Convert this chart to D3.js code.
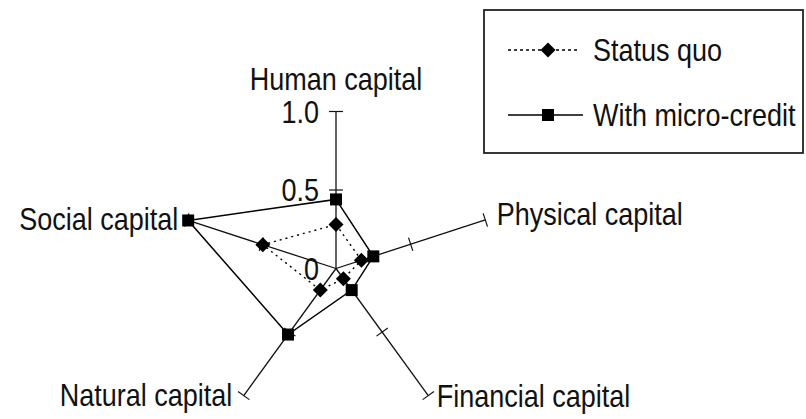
<!DOCTYPE html>
<html>
<head>
<meta charset="utf-8">
<script src="https://cdn.jsdelivr.net/npm/d3@7"></script>
<style>
  html, body { margin: 0; padding: 0; background: #fff; }
  svg { display: block; }
  text { font-family: "Liberation Sans", Arial, sans-serif; fill: #111; }
</style>
</head>
<body>
<svg id="chart" width="806" height="419"></svg>
<script>
// ---- data ----
const axes = ["Human capital", "Physical capital", "Financial capital", "Natural capital", "Social capital"];
const statusQuo = [0.28, 0.17, 0.08, 0.17, 0.49];
const withMicroCredit = [0.44, 0.25, 0.17, 0.52, 0.99];
const tickValues = [0, 0.5, 1.0];
const tickLabels = ["0", "0.5", "1.0"];
const seriesNames = ["Status quo", "With micro-credit"];

// ---- layout ----
const svg = d3.select("#chart");
const cx = 336, cy = 268.5, R = 157;
const FS = 27, VS = 1.13;
const r = d3.scaleLinear().domain([0, 1]).range([0, R]);
const angle = i => (-90 + 72 * i) * Math.PI / 180;
const pt = (i, v) => [cx + r(v) * Math.cos(angle(i)), cy + r(v) * Math.sin(angle(i))];

const g = svg.append("g");

// axes
axes.forEach((name, i) => {
  const [x1, y1] = pt(i, 1);
  g.append("line").attr("x1", cx).attr("y1", cy).attr("x2", x1).attr("y2", y1)
    .attr("stroke", "#111").attr("stroke-width", 1.3);
  // perpendicular ticks at 0.5 and 1.0
  [0.5, 1.0].forEach(v => {
    const [tx, ty] = pt(i, v);
    const a = angle(i) + Math.PI / 2;
    const h = 7;
    g.append("line")
      .attr("x1", tx - h * Math.cos(a)).attr("y1", ty - h * Math.sin(a))
      .attr("x2", tx + h * Math.cos(a)).attr("y2", ty + h * Math.sin(a))
      .attr("stroke", "#111").attr("stroke-width", 1.2);
  });
});

// tick labels on first axis
tickValues.forEach((v, k) => {
  const [, ty] = pt(0, v);
  const yb = v === 0 ? cy + 11.5 : ty + 11;
  g.append("text")
    .attr("transform", `translate(319,${yb}) scale(1,${VS})`)
    .attr("text-anchor", "end").attr("font-size", FS)
    .text(tickLabels[k]);
});

// axis labels
const labelPos = [
  { dx: 0, dy: -21.5, anchor: "middle" },
  { dx: 11.5, dy: 5, anchor: "start" },
  { dx: 8.5, dy: 11.5, anchor: "start" },
  { dx: -11.5, dy: 10.5, anchor: "end" },
  { dx: -8.5, dy: 10, anchor: "end" }
];
axes.forEach((name, i) => {
  const [x1, y1] = pt(i, 1);
  const p = labelPos[i];
  g.append("text")
    .attr("transform", `translate(${x1 + p.dx},${y1 + p.dy}) scale(1,${VS})`)
    .attr("text-anchor", p.anchor).attr("font-size", FS)
    .text(name);
});

// series
const line = d3.line().curve(d3.curveLinearClosed);
const diamond = s => `M0,${-s}L${s},0L0,${s}L${-s},0Z`;

function drawSeries(vals, dashed, marker) {
  const pts = vals.map((v, i) => pt(i, v));
  g.append("path").attr("d", line(pts)).attr("fill", "none")
    .attr("stroke", "#000").attr("stroke-width", dashed ? 1.4 : 1.5)
    .attr("stroke-dasharray", dashed ? "2,4" : null);
  pts.forEach(([x, y]) => {
    if (marker === "diamond") {
      g.append("path").attr("d", diamond(7.5)).attr("transform", `translate(${x},${y})`).attr("fill", "#000");
    } else {
      g.append("rect").attr("x", x - 6).attr("y", y - 6).attr("width", 12).attr("height", 12).attr("fill", "#000");
    }
  });
}
drawSeries(statusQuo, true, "diamond");
drawSeries(withMicroCredit, false, "square");

// legend
const lg = svg.append("g");
lg.append("rect").attr("x", 484).attr("y", 10).attr("width", 319).attr("height", 143)
  .attr("fill", "none").attr("stroke", "#222").attr("stroke-width", 1.8);
const legendY = [50, 115];
seriesNames.forEach((name, k) => {
  const y = legendY[k];
  lg.append("line").attr("x1", 508).attr("x2", k === 0 ? 580 : 583).attr("y1", y).attr("y2", y)
    .attr("stroke", "#000").attr("stroke-width", 1.5)
    .attr("stroke-dasharray", k === 0 ? "3,3" : null);
  if (k === 0) {
    lg.append("path").attr("d", diamond(7.5)).attr("transform", `translate(548,${y})`).attr("fill", "#000");
  } else {
    lg.append("rect").attr("x", 542).attr("y", y - 6).attr("width", 12).attr("height", 12).attr("fill", "#000");
  }
  lg.append("text")
    .attr("transform", `translate(593,${y + 11}) scale(1,${VS})`)
    .attr("font-size", FS).text(name);
});
</script>
</body>
</html>
